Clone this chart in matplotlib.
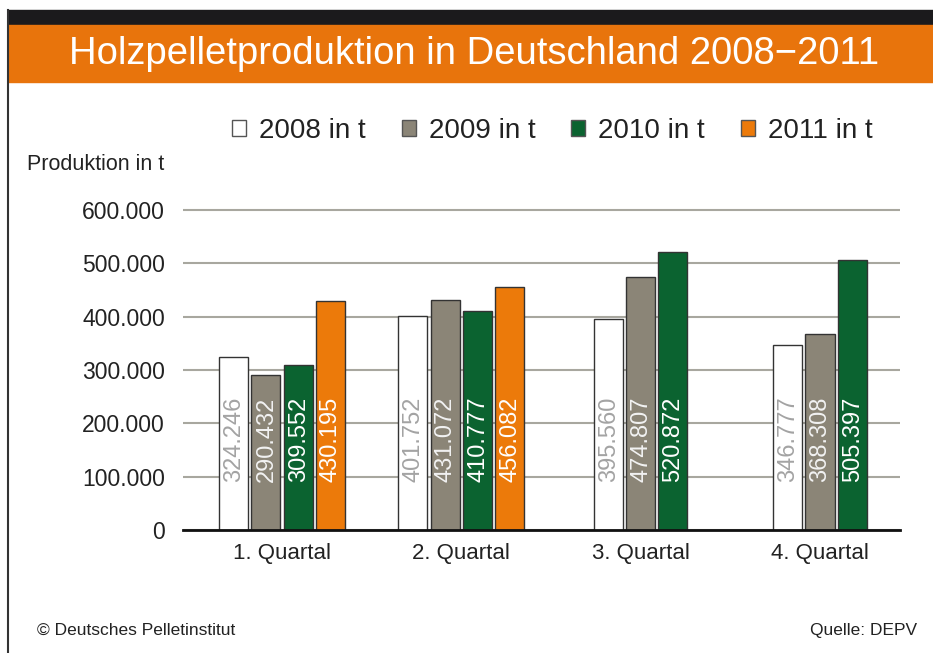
import matplotlib
matplotlib.use("Agg")
import matplotlib.pyplot as plt
from matplotlib.patches import Rectangle, Patch
from matplotlib.lines import Line2D

# Daten (Tonnen je Quartal)
quarters = ["1. Quartal", "2. Quartal", "3. Quartal", "4. Quartal"]
years = ["2008 in t", "2009 in t", "2010 in t", "2011 in t"]
val_2008 = [324246, 401752, 395560, 346777]
val_2009 = [290432, 431072, 474807, 368308]
val_2010 = [309552, 410777, 520872, 505397]
val_2011 = [430195, 456082, None, None]
yticks = [0, 100000, 200000, 300000, 400000, 500000, 600000]

series = [val_2008, val_2009, val_2010, val_2011]
colors = ["#ffffff", "#8b8577", "#0b6330", "#ec7a0a"]
label_colors = ["#a3a3a3", "#f2f2f2", "#ffffff", "#ffffff"]

plt.rcParams['font.family'] = ['Liberation Sans', 'DejaVu Sans']

fig = plt.figure(figsize=(9.33, 6.53), dpi=100)

# Kopfbalken
fig.patches.append(Rectangle((8/933, 1 - 25/653), 1, 15/653, transform=fig.transFigure,
                             color="#1b1a1c", zorder=0))
fig.patches.append(Rectangle((8/933, 1 - 82/653), 1, 57/653, transform=fig.transFigure,
                             color="#e8740c", zorder=0))
fig.add_artist(Line2D([8/933, 8/933], [0, 1 - 10/653], transform=fig.transFigure,
                      color="#333333", lw=1.5))
fig.text(0.508, 1 - 54/653, "Holzpelletproduktion in Deutschland 2008\u22122011",
         color="white", fontsize=27.5, ha="center", va="center")

ax = fig.add_axes([183/933, 1 - 530/653, (900 - 183)/933, (530 - 204.7)/653])
ax.set_xlim(-0.552, 3.446)
ax.set_ylim(0, 610000)

pitch = 0.18
width = 0.162
for qi in range(len(quarters)):
    present = [si for si in range(len(series)) if series[si][qi] is not None]
    n = len(present)
    for k, si in enumerate(present):
        x = qi + (k - (n - 1) / 2) * pitch
        v = series[si][qi]
        ax.bar(x, v, width=width, color=colors[si], edgecolor="#333333", lw=1, zorder=3)
        txt = f"{v / 1000:.3f}"
        ax.text(x + 0.003, 90000, txt, rotation=90, ha="center", va="bottom",
                color=label_colors[si], fontsize=17, zorder=4)

ax.set_yticks(yticks)
ax.set_yticklabels(["0"] + [f"{t // 1000}.000" for t in yticks[1:]], fontsize=16.5,
                   color="#222222")
ax.set_xticks(range(len(quarters)))
ax.set_xticklabels(quarters, fontsize=16, color="#222222")
ax.tick_params(axis="y", length=0, pad=13)
ax.tick_params(axis="x", length=0, pad=9)
ax.grid(axis="y", color="#a8a79f", lw=1.5, zorder=0)
ax.set_axisbelow(True)
for s in ["top", "right", "left"]:
    ax.spines[s].set_visible(False)
ax.spines["bottom"].set_color("#111111")
ax.spines["bottom"].set_linewidth(2)
ax.spines["bottom"].set_zorder(5)

fig.text(27/933, 1 - 165/653, "Produktion in t", fontsize=15.5, color="#222222",
         ha="left", va="center")

handles = [Patch(facecolor=c, edgecolor="#555555", lw=1) for c in colors]
fig.legend(handles, years, loc="center", bbox_to_anchor=(0.592, 1 - 131/653), ncol=4,
           frameon=False, fontsize=20, handlelength=0.5, handleheight=0.5,
           handletextpad=0.47, columnspacing=1.3, labelcolor="#222222")

fig.text(37/933, 1 - 630/653, "\u00a9 Deutsches Pelletinstitut", fontsize=12.5,
         color="#222222", ha="left", va="center")
fig.text(917/933, 1 - 630/653, "Quelle: DEPV", fontsize=12.5, color="#222222",
         ha="right", va="center")

fig.savefig("out.png", dpi=100)
